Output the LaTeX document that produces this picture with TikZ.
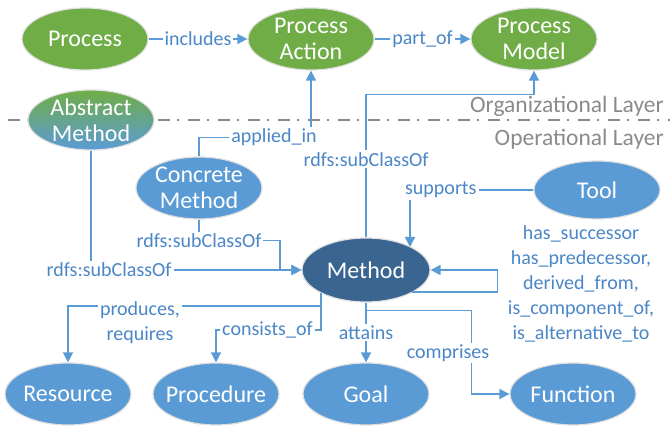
\documentclass[tikz,border=0pt]{standalone}
\usepackage{fontspec}
\setmainfont{Carlito}
\usetikzlibrary{shapes.geometric,arrows.meta,calc}
\definecolor{oGreen}{HTML}{70AD47}
\definecolor{oBlue}{HTML}{5B9BD5}
\definecolor{oDark}{HTML}{3A6591}
\definecolor{linkBlue}{HTML}{5B9BD5}
\definecolor{labelBlue}{HTML}{4A86C8}
\definecolor{layerGray}{HTML}{8A8A8A}

\begin{document}
\begin{tikzpicture}[x=1pt,y=-1pt,
  oval/.style={ellipse, minimum width=126pt, minimum height=62pt, inner sep=0pt,
    draw=black!12, line width=1.2pt},
  ovaltxt/.style={text=white, font=\fontsize{24}{26}\selectfont, align=center, inner sep=0pt},
  green oval/.style={oval, fill=oGreen},
  blue oval/.style={oval, fill=oBlue},
  arr/.style={draw=linkBlue, line width=1.5pt, -{Triangle[length=10pt,width=10pt]}},
  lbl/.style={fill=white, text=labelBlue, font=\fontsize{20}{25}\selectfont, inner sep=2pt},
  layertxt/.style={text=layerGray, font=\fontsize{23.5}{26}\selectfont, inner sep=0pt},
  layerline/.style={draw=layerGray, line width=1.5pt, dash pattern=on 12pt off 7pt on 2pt off 9pt}
]
\useasboundingbox (0,0) rectangle (670,427);

% boundary between the two layers
\draw[layerline] (8,120) -- (670,120);
\node[layertxt, anchor=east] (orgl) at (664,106) {Organizational Layer};
\node[layertxt, anchor=east] (opl) at (664,139) {Operational Layer};

% organizational layer
\node[green oval, label={[ovaltxt]center:Process}] (proc) at (85,39) {};
\node[green oval, label={[ovaltxt]center:Process\\Action}] (pa) at (311,39) {};
\node[green oval, label={[ovaltxt]center:Process\\Model}] (pm) at (534,39) {};

% operational layer
\node[oval, top color=oGreen, bottom color=oBlue, minimum height=60pt,
  label={[ovaltxt]center:Abstract\\Method}] (am) at (91,120) {};
\node[blue oval, label={[ovaltxt]center:Concrete\\Method}] (cm) at (199,188) {};
\node[oval, fill=oDark, minimum width=128pt, minimum height=64pt,
  label={[ovaltxt]center:Method}] (meth) at (366,270) {};
\node[blue oval, minimum height=58pt, label={[ovaltxt]center:Tool}] (tool) at (597,190) {};
\node[blue oval, label={[ovaltxt]center:Resource}] (res) at (68,394) {};
\node[blue oval, label={[ovaltxt]center:Procedure}] (procd) at (216,394) {};
\node[blue oval, label={[ovaltxt]center:Goal}] (goal) at (366,394) {};
\node[blue oval, label={[ovaltxt]center:Function}] (func) at (573,394) {};

% relations between the process classes
\draw[arr] (proc.east) -- node[lbl] (lincl) {includes} (pa.west);
\draw[arr] (pa.east) -- node[lbl] (lpart) {part\_of} (pm.west);
\draw[arr] (cm.north) -- ++(0,-19) -| node[lbl, pos=0.335] (lapp) {applied\_in} (pa.south);
\draw[arr] (meth.north) -- node[lbl, pos=0.545] (lsub3) {rdfs:subClassOf} ++(0,-143) -| (pm.south);

% subclasses of Method
\draw[arr] (cm.south) |- node[lbl, pos=0.5] (lsub2) {rdfs:subClassOf} ++(81,21) |- (meth.west);
\draw[arr] (am.south) |- node[lbl, pos=0.543] (lsub1) {rdfs:subClassOf} (meth.west);

% Tool supports Method
\coordinate (msup) at ($(meth.center)+(44,-23)$);
\draw[arr] (tool.west) -| node[lbl, pos=0.375] (lsupp) {supports} (msup);

% relations of Method with itself
\coordinate (mloop) at ($(meth.center)+(46,22)$);
\draw[arr] (mloop) -| ($(meth.east)+(67,0)$) -- (meth.east);
\node[lbl, fill=none, align=center] (lrel) at (581,284)
  {has\_successor\\has\_predecessor,\\derived\_from,\\is\_component\_of,\\is\_alternative\_to};

% Method towards the lower classes
\coordinate (mres) at ($(meth.center)+(-45,23)$);
\draw[arr] (mres) -- ++(0,13) -| (res.north);
\node[lbl, align=center] (lprod) at (140,323) {produces,\\requires};
\draw[arr] (mres) -- ++(0,37) -| node[lbl, pos=0.255] (lcons) {consists\_of} (procd.north);
\draw[arr] (meth.south) -- node[lbl] (latt) {attains} (goal.north);
\coordinate (mcomp) at ($(meth.south)+(0,8)$);
\draw[arr] (mcomp) -| ($(func.west)+(-38,0)$) -- (func.west);
\node[lbl] (lcomp) at (448,353) {comprises};
\end{tikzpicture}
\end{document}
